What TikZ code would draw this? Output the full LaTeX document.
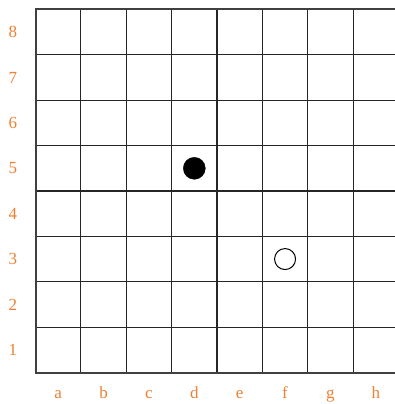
\documentclass[tikz,border=0pt]{standalone}
\usepackage{fontspec}
\setmainfont{Liberation Serif}
\definecolor{lblorange}{RGB}{238,128,50}
\begin{document}
\begin{tikzpicture}[x=1pt,y=-1pt,
  gridline/.style={draw=black!85,line width=1.2pt},
  border/.style={draw=black!75,line width=2pt},
  lbl/.style={text=lblorange,font=\fontsize{17}{19}\selectfont,inner sep=0pt},
  blackstone/.style={circle,fill=black,draw=black,minimum size=22pt,inner sep=0pt},
  whitestone/.style={circle,fill=white,draw=black,line width=1pt,minimum size=21pt,inner sep=0pt}]
\useasboundingbox (0,0) rectangle (395,404);
\def\cs{45.375}
\foreach \k in {1,...,7}{
  \draw[gridline] ({35.5+\k*\cs},9.5) -- ({35.5+\k*\cs},372.5);
  \draw[gridline] (35.5,{9.5+\k*\cs}) -- (398.5,{9.5+\k*\cs});
}
\draw[border] (35.5,9.5) rectangle (398.5,372.5);
\foreach \r [count=\i from 0] in {8,7,6,5,4,3,2,1}{
  \node[lbl] (r\r) at (13,{9.5+(\i+0.5)*\cs}) {\r};
}
\foreach \f [count=\i from 0] in {a,b,c,d,e,f,g,h}{
  \node[lbl,anchor=base] (f\f) at ({35.5+(\i+0.5)*\cs},398) {\f};
}
\node[blackstone] (d5) at ({35.5+3.5*\cs},{9.5+3.5*\cs}) {};
\node[whitestone] (f3) at ({35.5+5.5*\cs},{9.5+5.5*\cs}) {};
\end{tikzpicture}
\end{document}
